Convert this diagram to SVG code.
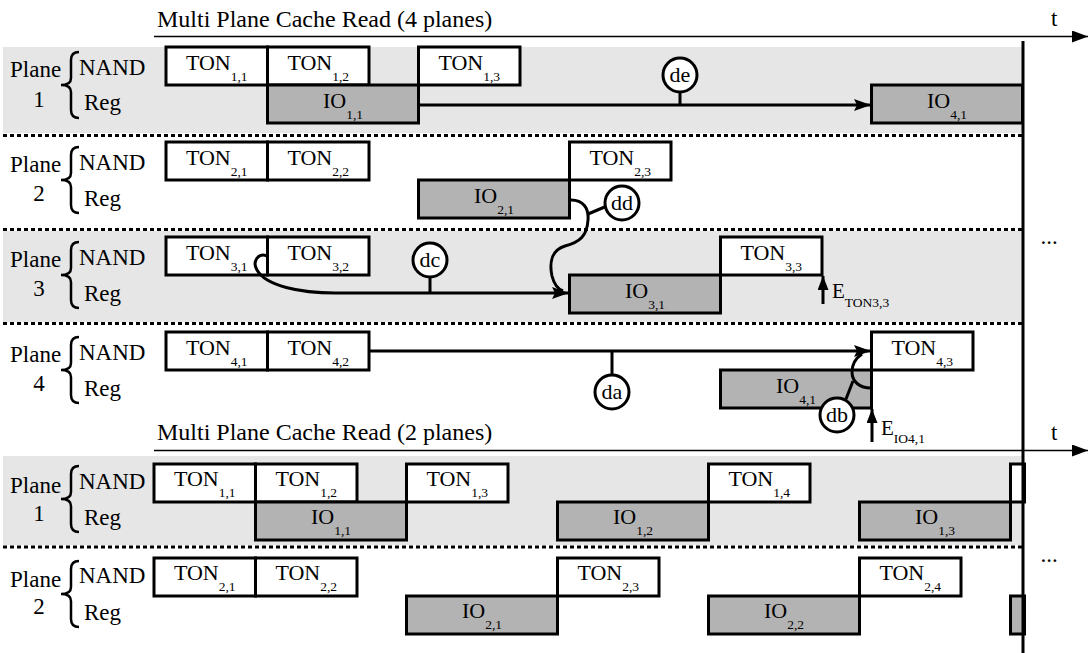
<svg xmlns="http://www.w3.org/2000/svg" width="1088" height="653" viewBox="0 0 1088 653" font-family="'Liberation Serif', 'DejaVu Serif', serif">
<defs>
<style>
text{font-family:'Liberation Serif','DejaVu Serif',serif;fill:#000}
.lbl{font-size:23px}
.ttl{font-size:24px}
.bx{font-size:22px;text-anchor:middle}
.sub{font-size:13.5px}
.ton{fill:#fff;stroke:#000;stroke-width:3}
.io{fill:#b3b3b3;stroke:#000;stroke-width:3}
.band{fill:#e6e6e6}
.dash{stroke:#000;stroke-width:3;stroke-dasharray:4 3;fill:none}
.brace{fill:none;stroke:#000;stroke-width:2.5}
.con{fill:none;stroke:#000;stroke-width:3}
.circ{fill:#fff;stroke:#000;stroke-width:3}
.axis{stroke:#000;stroke-width:1.5;fill:none}
</style>
<marker id="ah" viewBox="0 0 17 12" refX="17" refY="6" markerWidth="17" markerHeight="12" markerUnits="userSpaceOnUse" orient="auto">
<path d="M0,0 L17,6 L0,12 L3,6 z" fill="#000"/>
</marker>
<marker id="ahs" viewBox="0 0 14 11" refX="14" refY="5.5" markerWidth="14" markerHeight="11" markerUnits="userSpaceOnUse" orient="auto">
<path d="M0,0 L14,5.5 L0,11 z" fill="#000"/>
</marker>
<marker id="axh" viewBox="0 0 16 12" refX="16" refY="6" markerWidth="16" markerHeight="12" markerUnits="userSpaceOnUse" orient="auto">
<path d="M0,0 L16,6 L0,12 z" fill="#000"/>
</marker>
</defs>
<rect width="1088" height="653" fill="#fff"/>

<g id="bands">
<rect class="band" x="3" y="47" width="1019" height="86"/>
<rect class="band" x="3" y="231" width="1019" height="91"/>
<rect class="band" x="3" y="456" width="1019" height="89"/>
<line class="dash" x1="3" y1="135.5" x2="1022" y2="135.5"/>
<line class="dash" x1="3" y1="229.5" x2="1022" y2="229.5"/>
<line class="dash" x1="3" y1="323.5" x2="1022" y2="323.5"/>
<line class="dash" x1="3" y1="547" x2="1022" y2="547"/>
</g>

<g id="titles">
<text class="ttl" x="157" y="27">Multi Plane Cache Read (4 planes)</text>
<text class="ttl" x="157" y="440">Multi Plane Cache Read (2 planes)</text>
<text class="lbl" x="1051" y="26">t</text>
<text class="lbl" x="1051" y="440">t</text>
<text class="lbl" x="1049" y="244" text-anchor="middle">...</text>
<text class="lbl" x="1049" y="562" text-anchor="middle">...</text>
</g>

<g id="row-labels">
<text class="lbl" x="10" y="77">Plane</text><text class="lbl" x="39" y="107" text-anchor="middle">1</text>
<text class="lbl" x="79" y="75">NAND</text><text class="lbl" x="84" y="110">Reg</text>
<path class="brace" d="M79,52 C74,52 71,54 71,60 L71,78 C71,83 67,85 61,85 C67,85 71,87 71,92 L71,110 C71,116 74,118 79,118"/>
<text class="lbl" x="10" y="172">Plane</text><text class="lbl" x="39" y="201" text-anchor="middle">2</text>
<text class="lbl" x="79" y="170">NAND</text><text class="lbl" x="84" y="206">Reg</text>
<path class="brace" d="M79,147 C74,147 71,149 71,155 L71,173 C71,178 67,180 61,180 C67,180 71,182 71,187 L71,205 C71,211 74,213 79,213"/>
<text class="lbl" x="10" y="267">Plane</text><text class="lbl" x="39" y="296" text-anchor="middle">3</text>
<text class="lbl" x="79" y="265">NAND</text><text class="lbl" x="84" y="301">Reg</text>
<path class="brace" d="M79,242 C74,242 71,244 71,250 L71,268 C71,273 67,275 61,275 C67,275 71,277 71,282 L71,300 C71,306 74,308 79,308"/>
<text class="lbl" x="10" y="362">Plane</text><text class="lbl" x="39" y="391" text-anchor="middle">4</text>
<text class="lbl" x="79" y="360">NAND</text><text class="lbl" x="84" y="396">Reg</text>
<path class="brace" d="M79,337 C74,337 71,339 71,345 L71,363 C71,368 67,370 61,370 C67,370 71,372 71,377 L71,395 C71,401 74,403 79,403"/>
<text class="lbl" x="10" y="493">Plane</text><text class="lbl" x="39" y="521" text-anchor="middle">1</text>
<text class="lbl" x="79" y="489">NAND</text><text class="lbl" x="84" y="525">Reg</text>
<path class="brace" d="M79,466 C74,466 71,468 71,474 L71,492 C71,497 67,499 61,499 C67,499 71,501 71,506 L71,524 C71,530 74,532 79,532"/>
<text class="lbl" x="10" y="587">Plane</text><text class="lbl" x="39" y="614" text-anchor="middle">2</text>
<text class="lbl" x="79" y="583">NAND</text><text class="lbl" x="84" y="620">Reg</text>
<path class="brace" d="M79,561 C74,561 71,563 71,569 L71,587 C71,592 67,594 61,594 C67,594 71,596 71,601 L71,619 C71,625 74,627 79,627"/>
</g>

<!-- 4-plane section -->
<g id="TON1_1"><rect class="ton" x="166" y="47" width="101.5" height="38"/><text class="bx" x="216.75" y="70">TON<tspan class="sub" dy="11">1,1</tspan></text></g>
<g id="TON1_2"><rect class="ton" x="267.5" y="47" width="101.5" height="38"/><text class="bx" x="318.25" y="70">TON<tspan class="sub" dy="11">1,2</tspan></text></g>
<g id="TON1_3"><rect class="ton" x="418.5" y="47" width="101.5" height="38"/><text class="bx" x="469.25" y="70">TON<tspan class="sub" dy="11">1,3</tspan></text></g>
<g id="IO1_1"><rect class="io" x="267.5" y="85" width="151" height="38"/><text class="bx" x="343" y="108">IO<tspan class="sub" dy="11">1,1</tspan></text></g>
<g id="IO4_1p1"><rect class="io" x="871.5" y="85" width="151" height="38"/><text class="bx" x="947" y="108">IO<tspan class="sub" dy="11">4,1</tspan></text></g>

<g id="TON2_1"><rect class="ton" x="166" y="142" width="101.5" height="38"/><text class="bx" x="216.75" y="165">TON<tspan class="sub" dy="11">2,1</tspan></text></g>
<g id="TON2_2"><rect class="ton" x="267.5" y="142" width="101.5" height="38"/><text class="bx" x="318.25" y="165">TON<tspan class="sub" dy="11">2,2</tspan></text></g>
<g id="TON2_3"><rect class="ton" x="569.5" y="142" width="101.5" height="38"/><text class="bx" x="620.25" y="165">TON<tspan class="sub" dy="11">2,3</tspan></text></g>
<g id="IO2_1"><rect class="io" x="418.5" y="180" width="151" height="38"/><text class="bx" x="494" y="203">IO<tspan class="sub" dy="11">2,1</tspan></text></g>

<g id="TON3_1"><rect class="ton" x="166" y="237" width="101.5" height="38"/><text class="bx" x="216.75" y="260">TON<tspan class="sub" dy="11">3,1</tspan></text></g>
<g id="TON3_2"><rect class="ton" x="267.5" y="237" width="101.5" height="38"/><text class="bx" x="318.25" y="260">TON<tspan class="sub" dy="11">3,2</tspan></text></g>
<g id="TON3_3"><rect class="ton" x="720.5" y="237" width="101.5" height="38"/><text class="bx" x="771.25" y="260">TON<tspan class="sub" dy="11">3,3</tspan></text></g>
<g id="IO3_1"><rect class="io" x="569.5" y="275" width="151" height="38"/><text class="bx" x="645" y="298">IO<tspan class="sub" dy="11">3,1</tspan></text></g>

<g id="TON4_1"><rect class="ton" x="166" y="332" width="101.5" height="38"/><text class="bx" x="216.75" y="355">TON<tspan class="sub" dy="11">4,1</tspan></text></g>
<g id="TON4_2"><rect class="ton" x="267.5" y="332" width="101.5" height="38"/><text class="bx" x="318.25" y="355">TON<tspan class="sub" dy="11">4,2</tspan></text></g>
<g id="TON4_3"><rect class="ton" x="871.5" y="332" width="101.5" height="38"/><text class="bx" x="922.25" y="355">TON<tspan class="sub" dy="11">4,3</tspan></text></g>
<g id="IO4_1"><rect class="io" x="720.5" y="370" width="151" height="38"/><text class="bx" x="796" y="393">IO<tspan class="sub" dy="11">4,1</tspan></text></g>

<!-- 2-plane section -->
<g id="B_TON1_1"><rect class="ton" x="154" y="464" width="101.5" height="38"/><text class="bx" x="204.75" y="486">TON<tspan class="sub" dy="11">1,1</tspan></text></g>
<g id="B_TON1_2"><rect class="ton" x="255.5" y="464" width="101.5" height="38"/><text class="bx" x="306.25" y="486">TON<tspan class="sub" dy="11">1,2</tspan></text></g>
<g id="B_TON1_3"><rect class="ton" x="406.5" y="464" width="101.5" height="38"/><text class="bx" x="457.25" y="486">TON<tspan class="sub" dy="11">1,3</tspan></text></g>
<g id="B_TON1_4"><rect class="ton" x="708.5" y="464" width="101.5" height="38"/><text class="bx" x="759.25" y="486">TON<tspan class="sub" dy="11">1,4</tspan></text></g>
<g id="B_TON1_5"><rect class="ton" x="1010.5" y="464" width="14" height="38"/></g>
<g id="B_IO1_1"><rect class="io" x="255.5" y="502" width="151" height="38"/><text class="bx" x="331" y="524">IO<tspan class="sub" dy="11">1,1</tspan></text></g>
<g id="B_IO1_2"><rect class="io" x="557.5" y="502" width="151" height="38"/><text class="bx" x="633" y="524">IO<tspan class="sub" dy="11">1,2</tspan></text></g>
<g id="B_IO1_3"><rect class="io" x="859.5" y="502" width="151" height="38"/><text class="bx" x="935" y="524">IO<tspan class="sub" dy="11">1,3</tspan></text></g>

<g id="B_TON2_1"><rect class="ton" x="154" y="558" width="101.5" height="38"/><text class="bx" x="204.75" y="580">TON<tspan class="sub" dy="11">2,1</tspan></text></g>
<g id="B_TON2_2"><rect class="ton" x="255.5" y="558" width="101.5" height="38"/><text class="bx" x="306.25" y="580">TON<tspan class="sub" dy="11">2,2</tspan></text></g>
<g id="B_TON2_3"><rect class="ton" x="557.5" y="558" width="101.5" height="38"/><text class="bx" x="608.25" y="580">TON<tspan class="sub" dy="11">2,3</tspan></text></g>
<g id="B_TON2_4"><rect class="ton" x="859.5" y="558" width="101.5" height="38"/><text class="bx" x="910.25" y="580">TON<tspan class="sub" dy="11">2,4</tspan></text></g>
<g id="B_IO2_1"><rect class="io" x="406.5" y="596" width="151" height="38"/><text class="bx" x="482" y="618">IO<tspan class="sub" dy="11">2,1</tspan></text></g>
<g id="B_IO2_2"><rect class="io" x="708.5" y="596" width="151" height="38"/><text class="bx" x="784" y="618">IO<tspan class="sub" dy="11">2,2</tspan></text></g>
<g id="B_IO2_3"><rect class="io" x="1010.5" y="596" width="14" height="38"/></g>

<g id="connectors">
<line class="con" x1="418.5" y1="105" x2="871" y2="105" marker-end="url(#ah)"/>
<line class="con" x1="680" y1="92" x2="680" y2="105"/>
<path class="con" d="M267,256 C258,252 252,262 257,270 C266,286 300,293 335,293 L569,293" marker-end="url(#ah)"/>
<line class="con" x1="430" y1="277" x2="430" y2="293"/>
<path class="con" d="M571,200 C583,200 589,208 588,220 C587,236 580,242 565,246 C552,250 549,262 552,276 C554,284 558,289 563,291"/>
<line class="con" x1="588" y1="214" x2="607" y2="206"/>
<line class="con" x1="369" y1="351" x2="871" y2="351" marker-end="url(#ah)"/>
<line class="con" x1="612" y1="351" x2="612" y2="376"/>
<path class="con" d="M871,388 C860,388 852,382 852,372 C852,363 856,358 862,354"/>
<line class="con" x1="846" y1="399" x2="853" y2="381"/>
<line class="con" x1="823" y1="304" x2="823" y2="276" marker-end="url(#ahs)"/>
<line class="con" x1="872" y1="442" x2="872" y2="409" marker-end="url(#ahs)"/>
<circle class="circ" cx="680" cy="75" r="17"/><text class="bx" x="680" y="82">de</text>
<circle class="circ" cx="430" cy="260" r="17"/><text class="bx" x="430" y="267">dc</text>
<circle class="circ" cx="622" cy="203" r="17"/><text class="bx" x="622" y="210">dd</text>
<circle class="circ" cx="612" cy="392" r="17"/><text class="bx" x="612" y="399">da</text>
<circle class="circ" cx="837" cy="415" r="17"/><text class="bx" x="837" y="422">db</text>
<text style="font-size:21px" x="832" y="298">E<tspan class="sub" dy="9">TON3,3</tspan></text>
<text style="font-size:21px" x="881" y="435">E<tspan class="sub" dy="8">IO4,1</tspan></text>
</g>

<g id="axes">
<line class="axis" x1="154" y1="36.5" x2="1088" y2="36.5" marker-end="url(#axh)"/>
<line class="axis" x1="154" y1="450.5" x2="1088" y2="450.5" marker-end="url(#axh)"/>
<line x1="1023" y1="41" x2="1023" y2="653" stroke="#000" stroke-width="3"/>
</g>
</svg>
